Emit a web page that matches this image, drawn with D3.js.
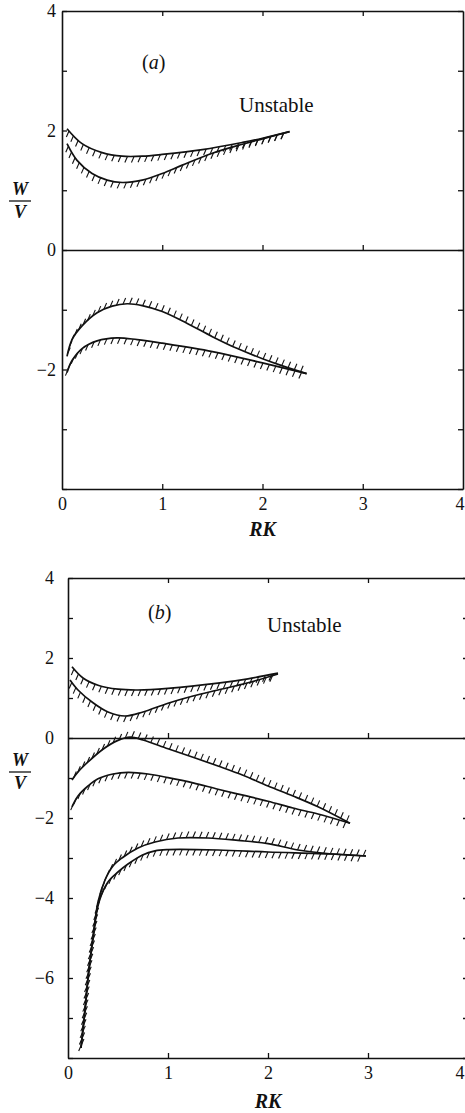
<!DOCTYPE html>
<html>
<head>
<meta charset="utf-8">
<script src="https://cdn.jsdelivr.net/npm/d3@7/dist/d3.min.js"></script>
<style>
  html, body { margin: 0; padding: 0; background: #fff; }
  svg { display: block; }
  text { font-family: "Liberation Serif", "DejaVu Serif", serif; fill: #111; }
</style>
</head>
<body>
<svg id="chart" width="465" height="1113"></svg>
<script>
// ---------- data ----------
const xTicks = [0, 1, 2, 3, 4];
const xInnerTicks = [1, 2, 3];
const yTicksA = [-4, -3, -2, -1, 0, 1, 2, 3, 4];
const yLabelsA = [4, 2, 0, -2];
const yTicksB = [-8, -7, -6, -5, -4, -3, -2, -1, 0, 1, 2, 3, 4];
const yLabelsB = [4, 2, 0, -2, -4, -6];

// panel (a) boundary curves: [RK, W/V]; hatch side: 1 = below, -1 = above
const a1 = [[0.05,2.03],[0.2,1.78],[0.4,1.63],[0.6,1.57],[0.8,1.57],[1.0,1.6],[1.4,1.68],[1.8,1.8],[2.0,1.87],[2.27,1.98]];
const a2 = [[0.05,1.78],[0.15,1.5],[0.3,1.28],[0.45,1.17],[0.6,1.13],[0.8,1.17],[1.0,1.28],[1.2,1.42],[1.5,1.62],[1.8,1.77],[2.0,1.86],[2.27,1.98]];
const a3 = [[0.05,-1.78],[0.1,-1.5],[0.2,-1.27],[0.35,-1.05],[0.5,-0.94],[0.65,-0.9],[0.8,-0.93],[1.0,-1.03],[1.25,-1.23],[1.5,-1.45],[1.75,-1.65],[2.0,-1.82],[2.2,-1.94],[2.44,-2.07]];
const a4 = [[0.05,-2.05],[0.1,-1.85],[0.2,-1.65],[0.35,-1.52],[0.55,-1.47],[0.75,-1.5],[1.0,-1.56],[1.5,-1.7],[2.0,-1.89],[2.44,-2.07]];

// panel (b) boundary curves
const b1 = [[0.04,1.78],[0.15,1.5],[0.3,1.32],[0.5,1.22],[0.7,1.2],[1.0,1.24],[1.5,1.37],[1.8,1.48],[2.1,1.62]];
const b2 = [[0.02,1.45],[0.1,1.2],[0.25,0.88],[0.4,0.65],[0.57,0.55],[0.75,0.65],[1.0,0.87],[1.25,1.05],[1.5,1.2],[1.8,1.38],[2.1,1.6]];
const b3 = [[0.04,-1.05],[0.1,-0.85],[0.2,-0.6],[0.35,-0.28],[0.5,-0.06],[0.62,0.02],[0.75,-0.05],[1.0,-0.27],[1.25,-0.48],[1.5,-0.7],[1.75,-0.93],[2.0,-1.2],[2.25,-1.45],[2.5,-1.72],[2.82,-2.13]];
const b4 = [[0.04,-1.72],[0.1,-1.45],[0.2,-1.2],[0.3,-1.02],[0.45,-0.9],[0.6,-0.86],[0.8,-0.9],[1.0,-0.99],[1.25,-1.12],[1.5,-1.28],[1.75,-1.43],[2.0,-1.58],[2.25,-1.75],[2.5,-1.9],[2.82,-2.13]];
const b5 = [[0.13,-7.75],[0.17,-6.8],[0.2,-6.0],[0.25,-5.0],[0.3,-4.1],[0.37,-3.55],[0.45,-3.2],[0.54,-3.0],[0.7,-2.75],[0.87,-2.6],[1.1,-2.5],[1.4,-2.5],[1.7,-2.56],[2.0,-2.64],[2.3,-2.8],[2.64,-2.9],[2.98,-2.95]];
const b6 = [[0.13,-7.75],[0.17,-6.8],[0.2,-6.0],[0.25,-5.0],[0.31,-4.1],[0.4,-3.6],[0.5,-3.35],[0.6,-3.15],[0.74,-2.93],[0.87,-2.82],[1.0,-2.79],[1.5,-2.8],[2.0,-2.85],[2.64,-2.9],[2.98,-2.95]];

const curvesA = [{pts: a1, side: 1}, {pts: a2, side: 1}, {pts: a3, side: -1}, {pts: a4, side: 1}];
const curvesB = [{pts: b1, side: 1}, {pts: b2, side: 1}, {pts: b3, side: -1}, {pts: b4, side: 1}, {pts: b5, side: -1}, {pts: b6, side: 1}];

// ---------- drawing ----------
const svg = d3.select("#chart");
const fmtMinus = d => d < 0 ? "\u2212" + Math.abs(d) : String(d);
const W = 465;

function panel(cfg) {
  const x = d3.scaleLinear().domain([0, 4]).range([cfg.x0, cfg.x1]);
  const y = d3.scaleLinear().domain(cfg.yDomain).range([cfg.yBottom, cfg.yTop]);
  const g = svg.append("g");

  const styleAxis = sel => {
    sel.attr("font-family", null);
    sel.selectAll("path.domain").attr("stroke", "#111").attr("stroke-width", 1.6);
    sel.selectAll(".tick line").attr("stroke", "#111").attr("stroke-width", 1.3);
    sel.selectAll("text").attr("font-size", 18).attr("fill", "#111");
  };

  // left
  g.append("g").attr("transform", `translate(${cfg.x0},0)`)
    .call(d3.axisLeft(y).tickValues(cfg.yTicks).tickSize(-5).tickSizeOuter(0).tickPadding(cfg.yPad)
      .tickFormat(d => cfg.yLabels.includes(d) ? fmtMinus(d) : ""))
    .call(styleAxis);
  // right
  g.append("g").attr("transform", `translate(${cfg.x1},0)`)
    .call(d3.axisRight(y).tickValues(cfg.yTicks).tickSize(-5).tickSizeOuter(0).tickFormat(""))
    .call(styleAxis);
  // top
  g.append("g").attr("transform", `translate(0,${cfg.yTop})`)
    .call(d3.axisTop(x).tickValues(xInnerTicks).tickSize(-5).tickSizeOuter(0).tickFormat(""))
    .call(styleAxis);
  // bottom
  g.append("g").attr("transform", `translate(0,${cfg.yBottom})`)
    .call(d3.axisBottom(x).tickValues(xTicks).tickSize(-5).tickSizeOuter(0).tickPadding(8)
      .tickFormat(d => String(d)))
    .call(styleAxis)
    .call(s => s.selectAll(".tick").filter(d => d === 0 || d === 4).select("line").remove())
    .call(s => s.selectAll(".tick").filter(d => d === 4).select("text")
      .attr("text-anchor", "end").attr("x", W - 1 - x(4)));
  // zero line
  g.append("g").attr("transform", `translate(0,${y(0)})`)
    .call(d3.axisTop(x).tickValues(xInnerTicks).tickSize(5).tickSizeOuter(0).tickFormat(""))
    .call(styleAxis);

  // curves + hatching
  const line = d3.line().x(d => x(d[0])).y(d => y(d[1])).curve(d3.curveCatmullRom.alpha(0.5));
  const hatchG = g.append("g");
  cfg.curves.forEach(c => {
    const p = g.append("path").attr("d", line(c.pts))
      .attr("fill", "none").attr("stroke", "#111").attr("stroke-width", 1.7)
      .attr("stroke-linejoin", "round");
    const node = p.node();
    const L = node.getTotalLength();
    const step = 6.6;
    const vx = -2.6 * c.side, vy = 6.0 * c.side; // below: down-left, above: up-right
    for (let s = 3; s <= L; s += step) {
      const pt = node.getPointAtLength(s);
      hatchG.append("line")
        .attr("x1", pt.x).attr("y1", pt.y)
        .attr("x2", pt.x + vx).attr("y2", pt.y + vy)
        .attr("stroke", "#111").attr("stroke-width", 1.1);
    }
  });

  // texts
  g.append("text").attr("x", x(2)).attr("y", cfg.rkY).attr("text-anchor", "middle")
    .attr("font-size", 20).attr("font-weight", "bold").attr("font-style", "italic").text("RK");
  const lab = g.append("text").attr("x", cfg.labX).attr("y", cfg.labY).attr("font-size", 20);
  lab.append("tspan").text("(");
  lab.append("tspan").attr("font-style", "italic").text(cfg.letter);
  lab.append("tspan").text(")");
  g.append("text").attr("x", cfg.unX).attr("y", cfg.unY).attr("font-size", 21).text("Unstable");
  // W/V fraction
  g.append("text").attr("x", 20).attr("y", cfg.barY - 6).attr("text-anchor", "middle")
    .attr("font-size", 18).attr("font-weight", "bold").attr("font-style", "italic").text("W");
  g.append("line").attr("x1", 9).attr("x2", 31).attr("y1", cfg.barY).attr("y2", cfg.barY)
    .attr("stroke", "#111").attr("stroke-width", 1.3);
  g.append("text").attr("x", 20).attr("y", cfg.barY + 17).attr("text-anchor", "middle")
    .attr("font-size", 18).attr("font-weight", "bold").attr("font-style", "italic").text("V");
}

panel({
  x0: 62, x1: 463, yTop: 11, yBottom: 489, yDomain: [-4, 4],
  yTicks: yTicksA, yLabels: yLabelsA, yPad: 6,
  curves: curvesA, rkY: 536, letter: "a", labX: 142, labY: 69,
  unX: 239, unY: 112, barY: 201
});
panel({
  x0: 68, x1: 468, yTop: 578, yBottom: 1058, yDomain: [-8, 4],
  yTicks: yTicksB, yLabels: yLabelsB, yPad: 14,
  curves: curvesB, rkY: 1108, letter: "b", labX: 148, labY: 619,
  unX: 267, unY: 632, barY: 772
});
</script>
</body>
</html>
